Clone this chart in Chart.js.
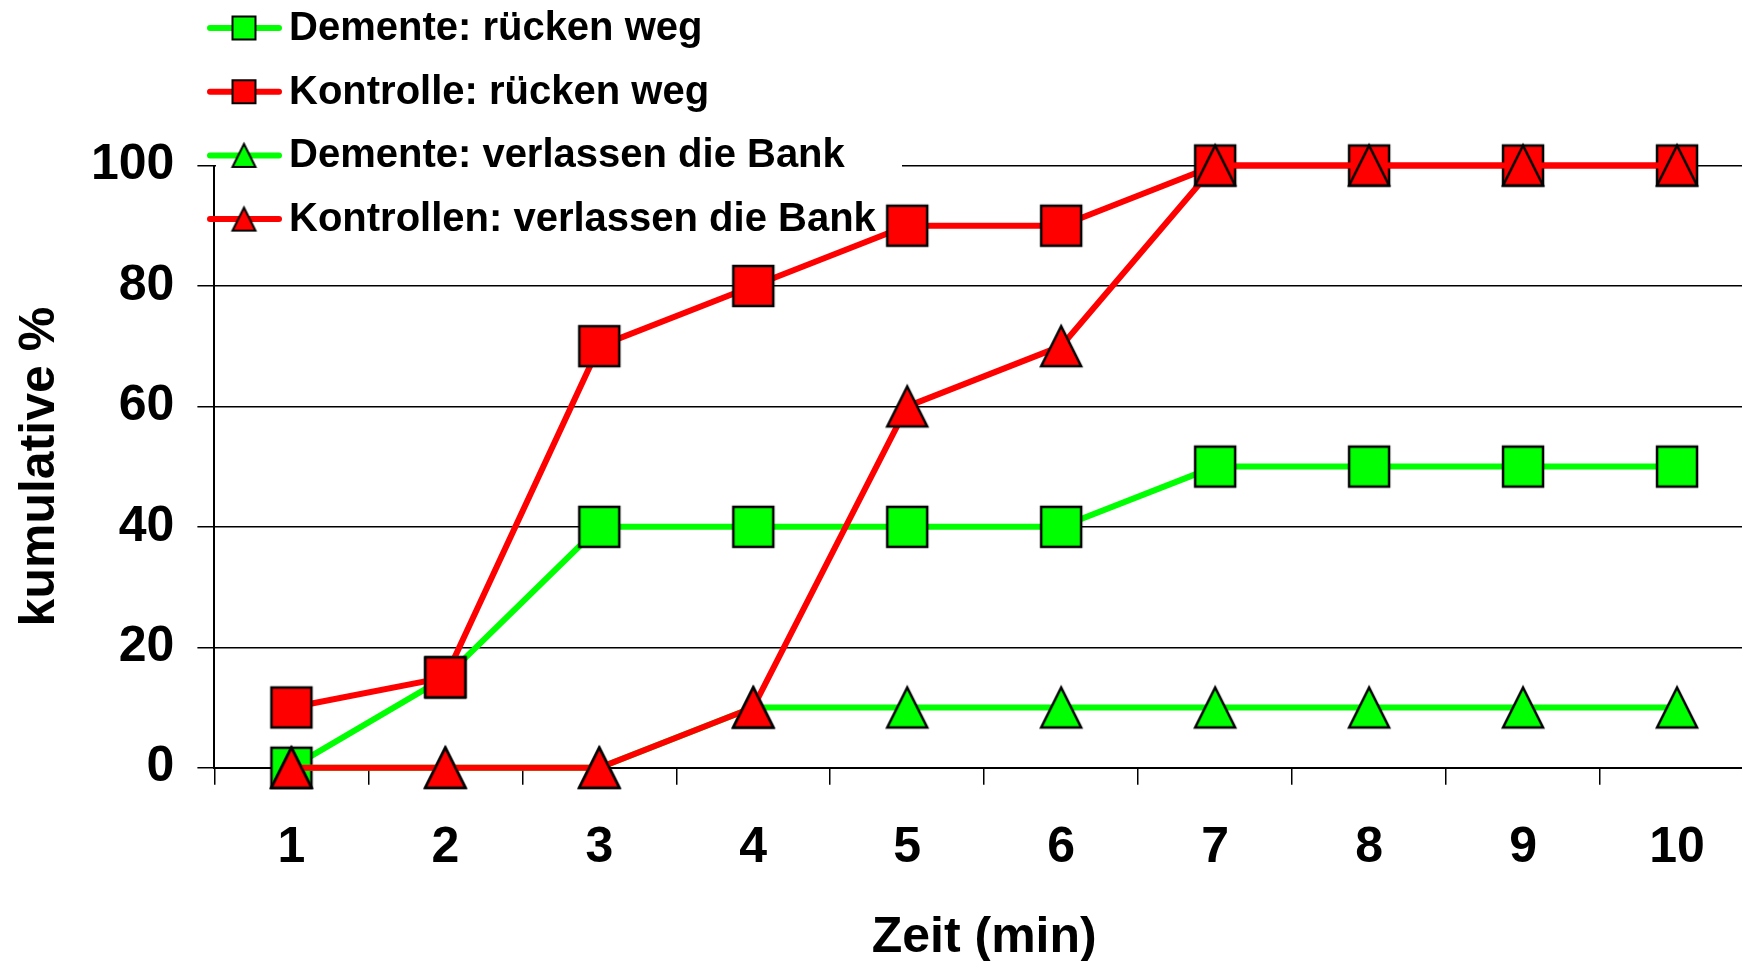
<!DOCTYPE html>
<html lang="de">
<head>
<meta charset="utf-8">
<title>kumulative %</title>
<script src="https://cdn.jsdelivr.net/npm/chart.js@4/dist/chart.umd.min.js"></script>
<style>
  html, body { margin: 0; padding: 0; background: #ffffff; overflow: hidden; }
  canvas { display: block; }
</style>
</head>
<body>
<canvas id="chart" width="1756" height="961"></canvas>
<script>
// Zeit in Minuten
const categories = ['1', '2', '3', '4', '5', '6', '7', '8', '9', '10'];

// kumulative Prozentwerte je Gruppe
const dementeRueckenWeg     = [0, 15, 40, 40, 40, 40, 50, 50, 50, 50];
const kontrolleRueckenWeg   = [10, 15, 70, 80, 90, 90, 100, 100, 100, 100];
const dementeVerlassen      = [0, 0, 0, 10, 10, 10, 10, 10, 10, 10];
const kontrollenVerlassen   = [0, 0, 0, 10, 60, 70, 100, 100, 100, 100];

const seriesNames = [
  'Demente: rücken weg',
  'Kontrolle: rücken weg',
  'Demente: verlassen die Bank',
  'Kontrollen: verlassen die Bank'
];

const yTicks = [0, 20, 40, 60, 80, 100];

const GREEN = '#00ff00';
const RED = '#ff0000';
const FONT = "'Liberation Sans', Arial, Helvetica, sans-serif";

// Marker glyphs: filled square or tall triangle with black outline
function makeMarker(shape, size, fill, stroke) {
  const pad = Math.ceil(stroke) + 1;
  const c = document.createElement('canvas');
  c.width = size + pad * 2;
  c.height = size + pad * 2;
  const g = c.getContext('2d');
  g.fillStyle = fill;
  g.strokeStyle = '#000000';
  g.lineWidth = stroke;
  g.lineJoin = 'miter';
  g.beginPath();
  if (shape === 'square') {
    g.rect(pad, pad, size, size);
  } else {
    g.moveTo(pad + size / 2, pad);
    g.lineTo(pad + size, pad + size);
    g.lineTo(pad, pad + size);
    g.closePath();
  }
  g.fill();
  g.stroke();
  return c;
}

const styles = [
  { color: GREEN, shape: 'square' },
  { color: RED, shape: 'square' },
  { color: GREEN, shape: 'triangle' },
  { color: RED, shape: 'triangle' }
];
const seriesData = [dementeRueckenWeg, kontrolleRueckenWeg, dementeVerlassen, kontrollenVerlassen];

const datasets = seriesData.map((d, i) => ({
  label: seriesNames[i],
  data: d,
  borderColor: styles[i].color,
  backgroundColor: styles[i].color,
  borderWidth: 6,
  pointStyle: makeMarker(styles[i].shape, 40, styles[i].color, 2.5),
  pointRadius: 20,
  tension: 0,
  clip: false,
  // later series sit on top
  order: seriesData.length - 1 - i
}));

// Legend block in the upper left, on a white panel
const legendPlugin = {
  id: 'sideLegend',
  beforeDatasetsDraw(chart) {
    const ctx = chart.ctx;
    ctx.save();
    ctx.fillStyle = '#ffffff';
    ctx.fillRect(216, 0, 686, 245);
    const rowY0 = 28, rowStep = 63.7;
    seriesNames.forEach((name, i) => {
      const y = rowY0 + i * rowStep;
      ctx.strokeStyle = styles[i].color;
      ctx.lineWidth = 6;
      ctx.lineCap = 'round';
      ctx.beginPath();
      ctx.moveTo(210, y);
      ctx.lineTo(279, y);
      ctx.stroke();
      const m = makeMarker(styles[i].shape, 23, styles[i].color, 2);
      ctx.drawImage(m, 244 - m.width / 2, y - m.height / 2);
      ctx.fillStyle = '#000000';
      ctx.font = 'bold 40px ' + FONT;
      ctx.textAlign = 'left';
      ctx.textBaseline = 'middle';
      ctx.fillText(name, 289, y + 1);
    });
    ctx.restore();
  }
};

new Chart(document.getElementById('chart'), {
  type: 'line',
  data: { labels: categories, datasets: datasets },
  plugins: [legendPlugin],
  options: {
    responsive: false,
    maintainAspectRatio: false,
    devicePixelRatio: 1,
    animation: false,
    layout: { autoPadding: false, padding: { top: 165.5, right: 2, left: 0, bottom: 0 } },
    plugins: {
      legend: { display: false },
      tooltip: { enabled: false },
      title: { display: false }
    },
    elements: { point: { hoverRadius: 20 } },
    scales: {
      x: {
        type: 'category',
        offset: true,
        afterFit(scale) {
          scale.height = 193.3;
          scale.paddingLeft = 0;
          scale.paddingRight = 0;
        },
        grid: {
          display: true,
          offset: true,
          drawOnChartArea: false,
          drawTicks: true,
          tickLength: 17,
          color: '#000000',
          lineWidth: 1.5
        },
        border: { display: true, color: '#000000', width: 2 },
        ticks: {
          color: '#000000',
          padding: 34,
          maxRotation: 0,
          font: { family: FONT, size: 50, weight: 'bold', lineHeight: 1.2 }
        },
        title: {
          display: true,
          text: 'Zeit (min)',
          color: '#000000',
          padding: { top: 0, bottom: 0 },
          font: { family: FONT, size: 50, weight: 'bold', lineHeight: 0.9 }
        }
      },
      y: {
        min: 0,
        max: 100,
        afterFit(scale) { scale.width = 214.4; },
        afterBuildTicks(scale) { scale.ticks = yTicks.map(v => ({ value: v })); },
        grid: {
          display: true,
          drawOnChartArea: true,
          drawTicks: true,
          tickLength: 17,
          color: '#000000',
          lineWidth: 1.5
        },
        border: { display: true, color: '#000000', width: 2 },
        ticks: {
          color: '#000000',
          padding: 23,
          font: { family: FONT, size: 50, weight: 'bold', lineHeight: 1.2 }
        },
        title: {
          display: true,
          text: 'kumulative %',
          color: '#000000',
          padding: { top: 15, bottom: 0 },
          font: { family: FONT, size: 50, weight: 'bold', lineHeight: 1 }
        }
      }
    }
  }
});
</script>
</body>
</html>
